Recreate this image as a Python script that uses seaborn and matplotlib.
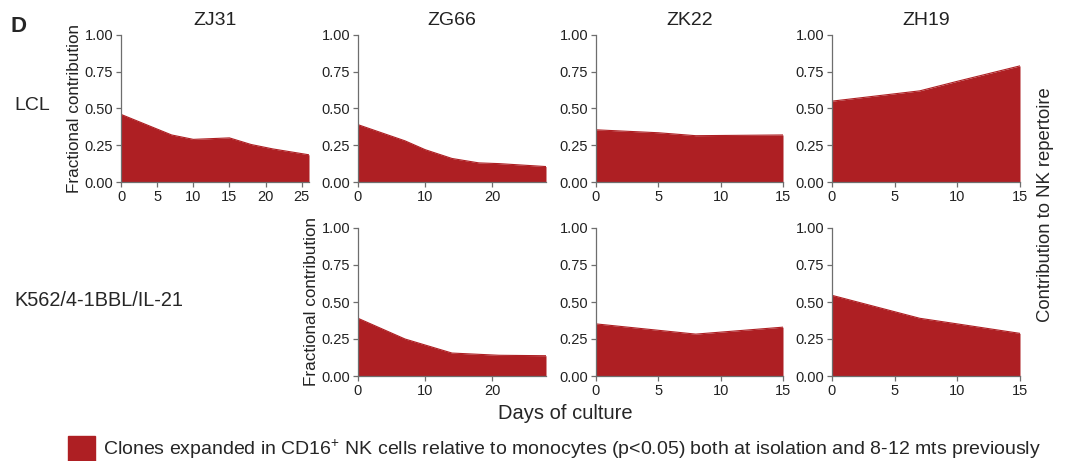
import pandas as pd
import seaborn as sns
import matplotlib.pyplot as plt

# donors (columns) and culture conditions (rows)
donors = ['ZJ31', 'ZG66', 'ZK22', 'ZH19']
conditions = ['LCL', 'K562/4-1BBL/IL-21']

# days of culture and fractional contribution
zj31_lcl_days = [0, 7, 10, 15, 18, 21, 26]
zj31_lcl_frac = [0.46, 0.32, 0.29, 0.30, 0.255, 0.225, 0.185]

zg66_lcl_days = [0, 7, 10, 14, 18, 21, 28]
zg66_lcl_frac = [0.39, 0.28, 0.22, 0.16, 0.13, 0.125, 0.105]
zg66_k562_days = [0, 7, 14, 21, 28]
zg66_k562_frac = [0.39, 0.25, 0.155, 0.14, 0.137]

zk22_lcl_days = [0, 5, 8, 15]
zk22_lcl_frac = [0.355, 0.335, 0.315, 0.32]
zk22_k562_days = [0, 8, 15]
zk22_k562_frac = [0.352, 0.283, 0.33]

zh19_lcl_days = [0, 7, 10, 15]
zh19_lcl_frac = [0.55, 0.62, 0.685, 0.79]
zh19_k562_days = [0, 7, 10, 15]
zh19_k562_frac = [0.545, 0.39, 0.352, 0.288]

x_ticks = {'ZJ31': [0, 5, 10, 15, 20, 25], 'ZG66': [0, 10, 20],
           'ZK22': [0, 5, 10, 15], 'ZH19': [0, 5, 10, 15]}

series = {
    ('ZJ31', 'LCL'): (zj31_lcl_days, zj31_lcl_frac),
    ('ZG66', 'LCL'): (zg66_lcl_days, zg66_lcl_frac),
    ('ZG66', 'K562/4-1BBL/IL-21'): (zg66_k562_days, zg66_k562_frac),
    ('ZK22', 'LCL'): (zk22_lcl_days, zk22_lcl_frac),
    ('ZK22', 'K562/4-1BBL/IL-21'): (zk22_k562_days, zk22_k562_frac),
    ('ZH19', 'LCL'): (zh19_lcl_days, zh19_lcl_frac),
    ('ZH19', 'K562/4-1BBL/IL-21'): (zh19_k562_days, zh19_k562_frac),
}

rows = []
for (donor, cond), (days, frac) in series.items():
    for d, f in zip(days, frac):
        rows.append({'donor': donor, 'condition': cond, 'day': d, 'frac': f})
df = pd.DataFrame(rows)

red = '#AE1F23'
grey = '#6E6E6E'

sns.set_style('ticks')
plt.rcParams['font.family'] = ['Liberation Sans', 'DejaVu Sans']

fig = plt.figure(figsize=(10.69, 4.61), dpi=100)
W, H = 1069, 461
col_x = [(121, 309), (358, 546), (596, 783), (832, 1020)]
row_y = [(35, 182), (228, 376)]

for ci, donor in enumerate(donors):
    for ri, cond in enumerate(conditions):
        sub = df[(df.donor == donor) & (df.condition == cond)]
        if sub.empty:
            continue
        x0, x1 = col_x[ci]
        y0, y1 = row_y[ri]
        ax = fig.add_axes([x0 / W, 1 - y1 / H, (x1 - x0) / W, (y1 - y0) / H])
        ax.fill_between(sub['day'], 0, sub['frac'], color=red, lw=0)
        sns.lineplot(data=sub, x='day', y='frac', ax=ax, color=red, lw=0.8)
        ax.set_xlim(0, sub['day'].max())
        ax.set_ylim(0, 1)
        ax.set_xticks(x_ticks[donor])
        ax.set_yticks([0, 0.25, 0.5, 0.75, 1.0])
        ax.set_yticklabels(['0.00', '0.25', '0.50', '0.75', '1.00'])
        ax.margins(0)
        ax.set_xlabel('')
        ax.set_ylabel('')
        for s in ['top', 'right']:
            ax.spines[s].set_visible(False)
        for s in ['left', 'bottom']:
            ax.spines[s].set_color(grey)
            ax.spines[s].set_linewidth(0.9)
        ax.tick_params(colors=grey, labelcolor='#222222', labelsize=10.5,
                       length=3.5, width=0.9, pad=2)
        if (ci, ri) in [(0, 0), (1, 1)]:
            ax.set_ylabel('Fractional contribution', fontsize=12.3,
                          color='#222222', labelpad=2)
        if ri == 0:
            ax.set_title(donor, fontsize=14, color='#222222', pad=7)

fig.text(11 / W, 1 - 27 / H, 'D', fontsize=16, fontweight='bold', va='center')
fig.text(14 / W, 1 - 106 / H, 'LCL', fontsize=14, va='center')
fig.text(14 / W, 1 - 300 / H, 'K562/4-1BBL/IL-21', fontsize=14.3, va='center')
fig.text(1045 / W, 1 - 205 / H, 'Contribution to NK repertoire', fontsize=13.3,
         rotation=90, va='center', ha='center')
fig.text(565 / W, 1 - 413 / H, 'Days of culture', fontsize=14.5, ha='center',
         va='center')

fig.patches.append(plt.Rectangle((68 / W, 1 - 462 / H), 27 / W, 26 / H,
                                 transform=fig.transFigure, color=red))
fig.text(103 / W, 1 - 449 / H,
         'Clones expanded in CD16$^{\\mathregular{+}}$ NK cells relative to '
         'monocytes (p<0.05) both at isolation and 8-12 mts previously',
         fontsize=14, va='center')

fig.savefig('out.png', dpi=100)
